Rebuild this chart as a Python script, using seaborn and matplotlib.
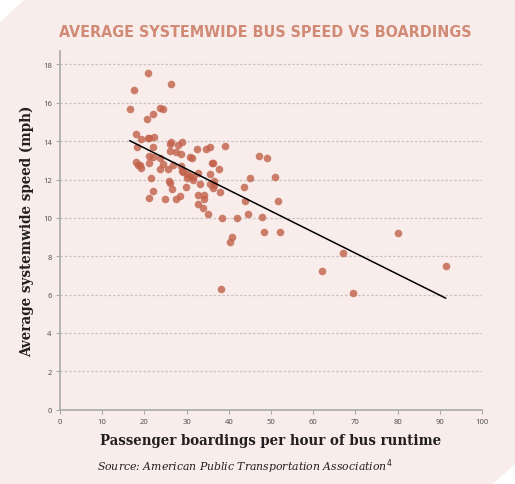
"""
bus_speed_vs_boardings.py

Scatter of average systemwide bus speed against passenger boardings per
hour of bus runtime, with a linear trend line.
"""

import numpy as np
import pandas as pd
import matplotlib
matplotlib.use("Agg")
import matplotlib.pyplot as plt
from matplotlib.patches import Polygon
import seaborn as sns

BG = "#F8EDEA"
DOT = "#C2614A"
TITLE_COLOR = "#D08A76"

# Boardings per hour of bus runtime (x) and average speed in mph (y)
boardings = [20.9, 26.3, 17.5, 16.5, 22.0, 23.7, 24.5, 20.5, 18.0, 19.3,
             20.8, 21.2, 22.2, 18.2, 22.0, 26.1, 26.4, 27.9, 28.9, 26.1,
             27.6, 28.7, 32.5, 34.6, 35.6, 39.2, 21.1, 22.1, 23.7, 30.8,
             31.3, 18.0, 18.4, 19.0, 19.3, 21.2, 24.5, 26.7, 23.7, 25.7,
             28.7, 36.0, 36.3, 37.7, 28.8, 29.2, 30.0, 30.8, 31.6, 32.6,
             35.6, 21.6, 30.0, 25.8, 26.1, 33.1, 36.6, 35.5, 36.6, 29.9,
             26.5, 36.2, 22.0, 37.9, 43.5, 45.1, 47.1, 49.1, 50.9, 51.7,
             43.8, 21.2, 24.9, 27.6, 28.4, 32.6, 34.1, 34.1, 32.6, 33.9,
             35.1, 38.3, 41.9, 44.6, 47.9, 48.3, 52.1, 40.8, 40.4, 38.2,
             80.2, 67.0, 62.2, 91.4, 69.4, 31.6]
speed = [17.55, 17.0, 16.68, 15.67, 15.44, 15.75, 15.7, 15.14, 14.36, 14.1,
         14.17, 14.19, 14.22, 13.72, 13.67, 13.87, 13.94, 13.82, 13.96, 13.49,
         13.44, 13.35, 13.58, 13.6, 13.72, 13.77, 13.23, 13.18, 13.14, 13.16,
         13.1, 12.93, 12.74, 12.78, 12.62, 12.88, 12.83, 12.76, 12.57, 12.57,
         12.71, 12.88, 12.87, 12.57, 12.45, 12.4, 12.31, 12.19, 12.14, 12.34,
         12.29, 12.1, 12.08, 11.93, 11.84, 11.77, 11.94, 11.77, 11.73, 11.59,
         11.51, 11.54, 11.4, 11.37, 11.59, 12.06, 13.21, 13.11, 12.15, 10.86,
         10.9, 11.06, 11.0, 11.0, 11.14, 11.17, 11.17, 10.97, 10.73, 10.5,
         10.22, 10.01, 10.01, 10.22, 10.06, 9.28, 9.28, 9.0, 8.72, 6.29,
         9.19, 8.17, 7.21, 7.49, 6.09, 12.0]

x_ticks = list(range(0, 101, 10))
y_ticks = list(range(0, 19, 2))


# ====================
def main():

    df = pd.DataFrame({"boardings": boardings, "speed": speed})

    sns.set_style("white")
    plt.rcParams["font.family"] = ["DejaVu Sans"]

    fig = plt.figure(figsize=(5.15, 4.85), dpi=100, facecolor=BG)
    ax = fig.add_axes([0.1165, 0.1532, 0.8194, 0.7396])
    ax.set_facecolor(BG)

    sns.scatterplot(data=df, x="boardings", y="speed", ax=ax, color=DOT,
                    alpha=0.8, s=30, linewidth=0, zorder=3)
    sns.regplot(data=df, x="boardings", y="speed", ax=ax, scatter=False,
                ci=None, truncate=True,
                line_kws={"color": "black", "lw": 1.1, "zorder": 4})

    ax.set_xlim(0, 100)
    ax.set_ylim(0, 18.7)
    ax.set_xticks(x_ticks)
    ax.set_yticks(y_ticks)
    ax.tick_params(axis="both", labelsize=5.5, labelcolor="#555555",
                   color="#AAAAAA", length=3, width=0.8, pad=3,
                   bottom=True, left=True)
    for t in ax.get_xticklabels() + ax.get_yticklabels():
        t.set_fontfamily(["Noto Sans", "DejaVu Sans"])

    # Horizontal dashed gridlines only
    ax.yaxis.grid(True, linestyle=(0, (2, 1.5)), color="#C9C4C2", lw=0.9)
    ax.xaxis.grid(False)
    ax.set_axisbelow(True)

    for side in ["top", "right"]:
        ax.spines[side].set_visible(False)
    for side in ["left", "bottom"]:
        ax.spines[side].set_color("#AAAAAA")
        ax.spines[side].set_linewidth(1.2)

    ax.set_xlabel("Passenger boardings per hour of bus runtime",
                  fontsize=10.7, fontweight="bold", family="DejaVu Serif",
                  fontstretch="condensed", color="#231F20", labelpad=6)
    ax.set_ylabel("Average systemwide speed (mph)", fontsize=10.8,
                  fontweight="bold", family="DejaVu Serif",
                  fontstretch="condensed", color="#231F20", labelpad=6)

    fig.text(0.115, 0.932, "AVERAGE SYSTEMWIDE BUS SPEED VS BOARDINGS",
             fontsize=11.5, fontweight="bold", color=TITLE_COLOR,
             family="DejaVu Sans", fontstretch="condensed", va="center",
             ha="left")
    fig.text(0.188, 0.037,
             r"Source: American Public Transportation Association$^{4}$",
             fontsize=7.8, style="italic", family="DejaVu Serif",
             color="#231F20", va="center", ha="left")

    # Cut corners of the background panel
    fig.patches.append(Polygon([[0, 1], [25 / 515, 1], [0, 1 - 23 / 485]],
                               closed=True, transform=fig.transFigure,
                               facecolor="white", edgecolor="none"))
    fig.patches.append(Polygon([[1, 20 / 485], [1, 0], [1 - 22 / 515, 0]],
                               closed=True, transform=fig.transFigure,
                               facecolor="white", edgecolor="none"))

    fig.savefig("out.png", dpi=100, facecolor=BG)


# ====================
if __name__ == "__main__":

    main()
